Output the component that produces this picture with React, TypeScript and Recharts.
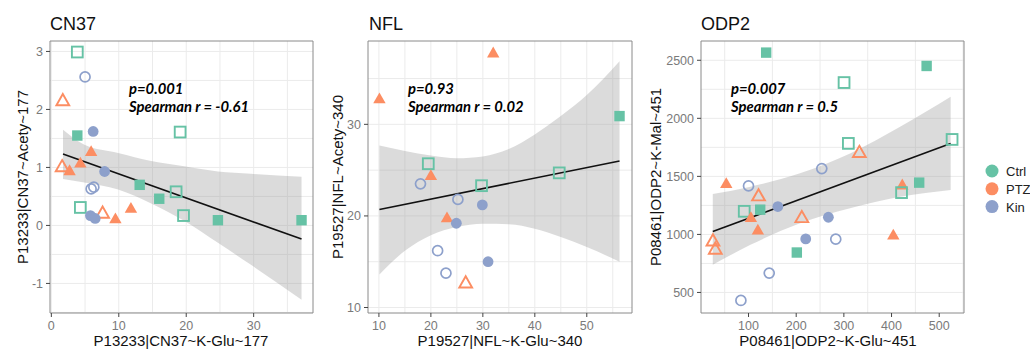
import React from "react";
import {
  ComposedChart,
  XAxis,
  YAxis,
  CartesianGrid,
  Area,
  Line,
  Scatter,
  ReferenceArea,
} from "recharts";

// groups: 0 = Ctrl, 1 = PTZ, 2 = Kin ; filled: 1 = solid marker, 0 = open marker
const groupNames = ["Ctrl", "PTZ", "Kin"];
const groupColors = ["#66C2A5", "#FC8D62", "#8DA0CB"];

// ---- CN37 ----
const cn37X = [3.85, 5.0, 1.7, 3.85, 6.2, 5.9, 19.1, 4.3, 1.6, 2.7, 7.9, 13.1, 5.9, 6.3, 16.0, 18.5, 4.3, 7.6, 11.8, 9.5, 5.8, 6.5, 19.6, 24.7, 37.1];
const cn37Y = [2.99, 2.56, 2.17, 1.55, 1.62, 1.29, 1.61, 1.09, 1.03, 0.96, 0.93, 0.7, 0.63, 0.66, 0.46, 0.58, 0.31, 0.23, 0.31, 0.13, 0.17, 0.12, 0.17, 0.09, 0.09];
const cn37Group = [0, 2, 1, 0, 2, 1, 0, 1, 1, 1, 2, 0, 2, 2, 0, 0, 0, 1, 1, 1, 2, 2, 0, 0, 0];
const cn37Filled = [0, 0, 0, 1, 1, 1, 0, 1, 0, 1, 1, 1, 0, 0, 1, 0, 0, 0, 1, 1, 1, 1, 0, 1, 1];
const cn37BandX = [1.73, 4.9, 9.9, 14.8, 19.7, 24.7, 29.6, 37.1];
const cn37BandLo = [0.8, 0.74, 0.62, 0.38, 0.08, -0.3, -0.68, -1.28];
const cn37BandHi = [1.65, 1.39, 1.25, 1.11, 1.02, 0.93, 0.89, 0.84];
const cn37FitX = [1.73, 37.1];
const cn37FitY = [1.23, -0.235];

// ---- NFL ----
const nflX = [32.0, 10.1, 56.3, 19.5, 20.0, 44.7, 18.0, 29.75, 25.2, 29.9, 23.1, 24.9, 21.3, 31.0, 22.9, 26.7];
const nflY = [37.9, 32.9, 30.9, 25.7, 24.5, 24.7, 23.5, 23.3, 21.8, 21.2, 19.9, 19.2, 16.2, 15.0, 13.75, 12.8];
const nflGroup = [1, 1, 0, 0, 1, 0, 2, 0, 2, 2, 1, 2, 2, 2, 2, 1];
const nflFilled = [1, 1, 1, 0, 1, 0, 0, 0, 0, 1, 1, 1, 0, 1, 0, 0];
const nflBandX = [10.1, 15, 20, 25, 30, 35, 40, 45, 50, 56.3];
const nflBandLo = [13.6, 16.2, 17.9, 18.8, 19.15, 19.1, 18.6, 17.7, 16.6, 15.0];
const nflBandHi = [27.7, 27.1, 26.6, 26.3, 26.5, 27.3, 28.9, 30.9, 33.2, 36.9];
const nflFitX = [10.1, 56.3];
const nflFitY = [20.7, 26.0];

// ---- ODP2 ----
const odp2X = [137, 473.6, 300.4, 309.4, 332.5, 527, 253.7, 53.3, 100, 121, 422.5, 458, 421, 91, 124.5, 161.5, 105, 211.8, 267.5, 119.6, 25.4, 30.3, 220, 283, 403.7, 201.3, 143.4, 84];
const odp2Y = [2566, 2451, 2308, 1784, 1715, 1818, 1567, 1446, 1418, 1341, 1434, 1446, 1360, 1199, 1213, 1240, 1154, 1154, 1148, 1045, 953, 882, 961, 959, 1002, 844, 667, 431];
const odp2Group = [0, 0, 0, 0, 1, 0, 2, 1, 2, 1, 1, 0, 0, 0, 0, 2, 1, 1, 2, 1, 1, 1, 2, 2, 1, 0, 2, 2];
const odp2Filled = [1, 1, 0, 0, 0, 0, 0, 1, 0, 0, 1, 1, 0, 0, 1, 1, 1, 0, 1, 1, 0, 0, 1, 0, 1, 1, 0, 0];
const odp2BandX = [25, 104, 208, 313, 418, 524];
const odp2BandLo = [738, 910, 1096, 1225, 1325, 1383];
const odp2BandHi = [1348, 1411, 1526, 1698, 1927, 2185];
const odp2FitX = [25, 524];
const odp2FitY = [1024, 1784];

const font = "'Liberation Sans', Arial, sans-serif";
const tickStyle = { fontSize: 12.5, fill: "#7a7a7a", fontFamily: font };

function Marker(props: any) {
  const { cx, cy, payload } = props;
  if (cx == null || cy == null) return <g />;
  const c = groupColors[payload.g];
  const solid = payload.f === 1;
  const shape = payload.g; // Ctrl square, PTZ triangle, Kin circle
  if (shape === 0) {
    return solid ? (
      <rect x={cx - 5.2} y={cy - 5.2} width={10.4} height={10.4} fill={c} />
    ) : (
      <rect x={cx - 5.4} y={cy - 5.4} width={10.8} height={10.8} fill="none" stroke={c} strokeWidth={1.9} />
    );
  }
  if (shape === 1) {
    const w = solid ? 6.2 : 6.4;
    const h = solid ? 5.4 : 5.6;
    const pts = `${cx},${cy - h} ${cx + w},${cy + h} ${cx - w},${cy + h}`;
    return solid ? (
      <polygon points={pts} fill={c} />
    ) : (
      <polygon points={pts} fill="none" stroke={c} strokeWidth={1.9} strokeLinejoin="miter" />
    );
  }
  return solid ? (
    <circle cx={cx} cy={cy} r={5.4} fill={c} />
  ) : (
    <circle cx={cx} cy={cy} r={5} fill="none" stroke={c} strokeWidth={1.7} />
  );
}

type PanelProps = {
  left: number;
  width: number;
  yAxisWidth: number;
  marginRight: number;
  xs: number[];
  ys: number[];
  gs: number[];
  fs: number[];
  bandX: number[];
  bandLo: number[];
  bandHi: number[];
  fitX: number[];
  fitY: number[];
  xDomain: [number, number];
  yDomain: [number, number];
  xTicks: number[];
  yTicks: number[];
  xGrid: number[];
  yGrid: number[];
};

function Panel(p: PanelProps) {
  const rows = p.bandX.map((x, i) => {
    const k = p.fitX.indexOf(x);
    return { x, band: [p.bandLo[i], p.bandHi[i]], fit: k >= 0 ? p.fitY[k] : null };
  });
  const pts = p.xs.map((x, i) => ({ x, y: p.ys[i], g: p.gs[i], f: p.fs[i] }));
  return (
    <div style={{ position: "absolute", left: p.left, top: 0 }}>
      <ComposedChart
        width={p.width}
        height={351}
        data={rows}
        margin={{ top: 41, right: p.marginRight, bottom: 0, left: 0 }}
      >
        <CartesianGrid
          stroke="#ebebeb"
          strokeWidth={1}
          verticalValues={p.xGrid}
          horizontalValues={p.yGrid}
        />
        <XAxis
          dataKey="x"
          type="number"
          domain={p.xDomain}
          ticks={p.xTicks}
          allowDataOverflow
          height={38}
          axisLine={false}
          tickLine={{ stroke: "#444" }}
          tickSize={4}
          tickMargin={4}
          tick={tickStyle}
        />
        <YAxis
          type="number"
          domain={p.yDomain}
          ticks={p.yTicks}
          allowDataOverflow
          width={p.yAxisWidth}
          axisLine={false}
          tickLine={{ stroke: "#444" }}
          tickSize={4}
          tickMargin={3}
          tick={tickStyle}
        />
        <ReferenceArea
          x1={p.xDomain[0]}
          x2={p.xDomain[1]}
          y1={p.yDomain[0]}
          y2={p.yDomain[1]}
          fill="none"
          stroke="#8a8a8a"
          strokeWidth={1}
        />
        <Area
          dataKey="band"
          type="monotone"
          fill="#999999"
          fillOpacity={0.35}
          stroke="none"
          dot={false}
          activeDot={false}
          isAnimationActive={false}
        />
        <Line
          dataKey="fit"
          connectNulls
          stroke="#111"
          strokeWidth={1.6}
          dot={false}
          activeDot={false}
          isAnimationActive={false}
        />
        <Scatter data={pts} dataKey="y" shape={Marker} isAnimationActive={false} />
      </ComposedChart>
    </div>
  );
}

const annot = { fontFamily: "Lato, 'Open Sans', sans-serif", fontWeight: 700, fontStyle: "italic", fontSize: 14.8 } as const;
const axTitle = { fontFamily: font, fontSize: 15, fill: "#111" } as const;
const titleStyle = { fontFamily: font, fontSize: 18, fill: "#111" } as const;

export default function App() {
  return (
    <div style={{ position: "absolute", left: 0, top: 0, width: 1030, height: 351, background: "#fff", fontFamily: font }}>
      <Panel
        left={0}
        width={330}
        yAxisWidth={50}
        marginRight={17}
        xs={cn37X}
        ys={cn37Y}
        gs={cn37Group}
        fs={cn37Filled}
        bandX={cn37BandX}
        bandLo={cn37BandLo}
        bandHi={cn37BandHi}
        fitX={cn37FitX}
        fitY={cn37FitY}
        xDomain={[-0.2, 38.8]}
        yDomain={[-1.51, 3.18]}
        xTicks={[0, 10, 20, 30]}
        yTicks={[-1, 0, 1, 2, 3]}
        xGrid={[0, 5, 10, 15, 20, 25, 30, 35]}
        yGrid={[-1.5, -1, -0.5, 0, 0.5, 1, 1.5, 2, 2.5, 3]}
      />
      <Panel
        left={330}
        width={330}
        yAxisWidth={38}
        marginRight={28}
        xs={nflX}
        ys={nflY}
        gs={nflGroup}
        fs={nflFilled}
        bandX={nflBandX}
        bandLo={nflBandLo}
        bandHi={nflBandHi}
        fitX={nflFitX}
        fitY={nflFitY}
        xDomain={[7.9, 58.7]}
        yDomain={[9.4, 39.1]}
        xTicks={[10, 20, 30, 40, 50]}
        yTicks={[10, 20, 30]}
        xGrid={[10, 15, 20, 25, 30, 35, 40, 45, 50, 55]}
        yGrid={[10, 15, 20, 25, 30, 35]}
      />
      <Panel
        left={660}
        width={320}
        yAxisWidth={41}
        marginRight={16}
        xs={odp2X}
        ys={odp2Y}
        gs={odp2Group}
        fs={odp2Filled}
        bandX={odp2BandX}
        bandLo={odp2BandLo}
        bandHi={odp2BandHi}
        fitX={odp2FitX}
        fitY={odp2FitY}
        xDomain={[0.3, 552]}
        yDomain={[323, 2666]}
        xTicks={[100, 200, 300, 400, 500]}
        yTicks={[500, 1000, 1500, 2000, 2500]}
        xGrid={[50, 100, 150, 200, 250, 300, 350, 400, 450, 500, 550]}
        yGrid={[500, 750, 1000, 1250, 1500, 1750, 2000, 2250, 2500]}
      />
      <svg width={1030} height={351} style={{ position: "absolute", left: 0, top: 0, pointerEvents: "none" }}>
        <text x={50} y={30} style={titleStyle}>CN37</text>
        <text x={369} y={30} style={titleStyle}>NFL</text>
        <text x={701} y={30} style={titleStyle}>ODP2</text>

        <text x={129} y={94} style={annot}>p=0.001</text>
        <text x={129} y={112} style={annot}>Spearman r = -0.61</text>
        <text x={408} y={94} style={annot}>p=0.93</text>
        <text x={408} y={112} style={annot}>Spearman r = 0.02</text>
        <text x={731} y={94} style={annot}>p=0.007</text>
        <text x={731} y={112} style={annot}>Spearman r = 0.5</text>

        <text x={181} y={346} textAnchor="middle" style={axTitle}>P13233|CN37~K-Glu~177</text>
        <text x={500} y={346} textAnchor="middle" style={axTitle}>P19527|NFL~K-Glu~340</text>
        <text x={828} y={346} textAnchor="middle" style={axTitle}>P08461|ODP2~K-Glu~451</text>

        <text x={28} y={177} textAnchor="middle" transform="rotate(-90 28 177)" style={axTitle}>P13233|CN37~Acety~177</text>
        <text x={343} y={177} textAnchor="middle" transform="rotate(-90 343 177)" style={axTitle}>P19527|NFL~Acety~340</text>
        <text x={661} y={177} textAnchor="middle" transform="rotate(-90 661 177)" style={axTitle}>P08461|ODP2~K-Mal~451</text>

        {groupNames.map((name, i) => (
          <g key={name}>
            <circle cx={992} cy={171 + i * 17.8} r={6.5} fill={groupColors[i]} />
            <text x={1006} y={176 + i * 17.8} style={{ fontFamily: font, fontSize: 13, fill: "#222" }}>{name}</text>
          </g>
        ))}
      </svg>
    </div>
  );
}
